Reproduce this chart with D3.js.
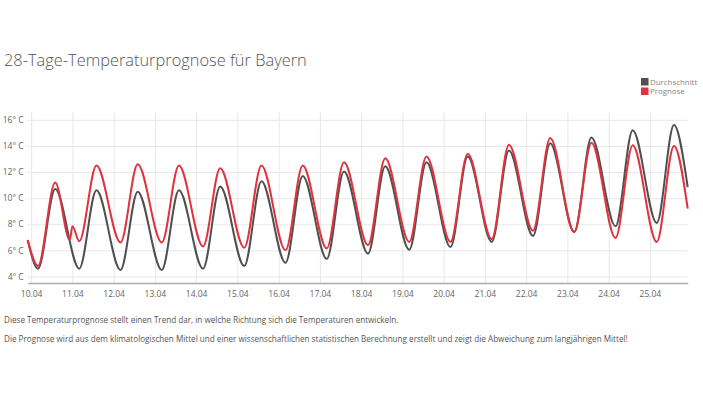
<!DOCTYPE html>
<html>
<head>
<meta charset="utf-8">
<script src="https://cdn.jsdelivr.net/npm/d3@7"></script>
<style>
  body { margin: 0; background: #fff; font-family: "Open Sans", sans-serif; }
  .grid line { stroke: #e8e8e8; stroke-width: 1; }
  .grid path { display: none; }
  .tick text { fill: #666; font-size: 8.5px; font-family: "Open Sans", sans-serif; }
  .note { fill: #555; font-size: 8.15px; }
</style>
</head>
<body>
<svg id="chart" width="703" height="396"></svg>
<script>
// stunden ab 10.04 00:00
var durchschnittStunden = [-2, 4, 14, 28, 38, 52, 62, 76, 86, 100, 110, 124, 134, 148, 158, 172, 182,
    196, 206, 220, 230, 244, 254, 268, 278, 292, 302, 316, 326, 340, 350, 364, 374, 382];
var durchschnittWerte = [6.8, 4.6, 10.7, 4.6, 10.6, 4.5, 10.5, 4.5, 10.6, 4.6, 10.9, 4.8, 11.3, 5.05, 11.7, 5.35, 12.05,
    5.75, 12.45, 6.05, 12.75, 6.25, 13.2, 6.65, 13.65, 7.1, 14.2, 7.4, 14.65, 7.85, 15.2, 8.1, 15.6, 10.85];

var prognoseStunden = [-2, 4, 14, 22.5, 24, 28, 38, 52, 62, 76, 86, 100, 110, 124, 134, 148, 158, 172, 182,
    196, 206, 220, 230, 244, 254, 268, 278, 292, 302, 316, 326, 340, 350, 364, 374, 382];
var prognoseWerte = [6.8, 4.8, 11.2, 6.8, 7.85, 6.7, 12.5, 6.6, 12.6, 6.6, 12.5, 6.3, 12.3, 6.2, 12.5, 6.0, 12.5, 6.15, 12.75,
    6.4, 13.05, 6.65, 13.2, 6.65, 13.4, 6.85, 14.1, 7.5, 14.6, 7.4, 14.25, 6.95, 14.05, 6.65, 14.0, 9.2];

var yTicks = [4, 6, 8, 10, 12, 14, 16];
var serien = ["Durchschnitt", "Prognose"];
var farben = {Durchschnitt: "#4f4f4f", Prognose: "#e0323f"};

var svg = d3.select("#chart");
var margin = {left: 27.7, right: 15.3, top: 112, bottom: 113},
    width = 703 - margin.left - margin.right,
    height = 396 - margin.top - margin.bottom;

var start = new Date(2024, 3, 10, 0, 0);
function zeit(h) { return new Date(start.getTime() + h * 3600000); }

var x = d3.scaleTime()
    .domain([zeit(-2), zeit(382)])
    .range([0, width]);

var y = d3.scaleLinear()
    .domain([3.5, 16.6])
    .range([height, 0]);

var g = svg.append("g")
    .attr("transform", "translate(" + margin.left + "," + margin.top + ")");

// title
svg.append("text")
    .attr("x", 4).attr("y", 66)
    .style("font-family", "'Open Sans', sans-serif")
    .style("font-weight", 300)
    .style("font-size", "16.4px")
    .style("fill", "#555")
    .text("28-Tage-Temperaturprognose für Bayern");

// grid
g.append("g")
    .attr("class", "grid")
    .call(d3.axisLeft(y).tickValues(yTicks).tickSize(-width).tickFormat(""));

g.append("g")
    .attr("class", "grid")
    .attr("transform", "translate(0," + height + ")")
    .call(d3.axisBottom(x).ticks(d3.timeDay.every(1)).tickSize(-height).tickFormat(""));

// axes labels
var yAxis = g.append("g")
    .call(d3.axisLeft(y).tickValues(yTicks).tickSize(0).tickPadding(4)
        .tickFormat(function(d) { return d + "° C"; }));
yAxis.select(".domain").remove();

var xAxis = g.append("g")
    .attr("transform", "translate(0," + height + ")")
    .call(d3.axisBottom(x).ticks(d3.timeDay.every(1)).tickSize(0).tickPadding(8)
        .tickFormat(d3.timeFormat("%d.%m")));
xAxis.select(".domain").attr("stroke", "#aaa").attr("stroke-width", 1.5);

// lines
var line = d3.line()
    .x(function(d) { return x(zeit(d[0])); })
    .y(function(d) { return y(d[1]); })
    .curve(d3.curveMonotoneX);

var daten = {
    Durchschnitt: d3.zip(durchschnittStunden, durchschnittWerte),
    Prognose: d3.zip(prognoseStunden, prognoseWerte)
};

serien.forEach(function(s) {
    g.append("path")
        .datum(daten[s])
        .attr("fill", "none")
        .attr("stroke", farben[s])
        .attr("stroke-width", 2)
        .attr("d", line);
});

// legend
var legend = svg.append("g").attr("transform", "translate(641,78)");
serien.forEach(function(s, i) {
    legend.append("rect")
        .attr("x", 0).attr("y", i * 9.5)
        .attr("width", 7.5).attr("height", 7.5)
        .attr("fill", farben[s]);
    legend.append("text")
        .attr("x", 9).attr("y", i * 9.5 + 6.8)
        .style("font-size", "7.9px")
        .style("fill", "#888")
        .text(s);
});

// notes
svg.append("text").attr("class", "note").attr("x", 4).attr("y", 323)
    .text("Diese Temperaturprognose stellt einen Trend dar, in welche Richtung sich die Temperaturen entwickeln.");
svg.append("text").attr("class", "note").attr("x", 4).attr("y", 342)
    .text("Die Prognose wird aus dem klimatologischen Mittel und einer wissenschaftlichen statistischen Berechnung erstellt und zeigt die Abweichung zum langjährigen Mittel!");
</script>
</body>
</html>
